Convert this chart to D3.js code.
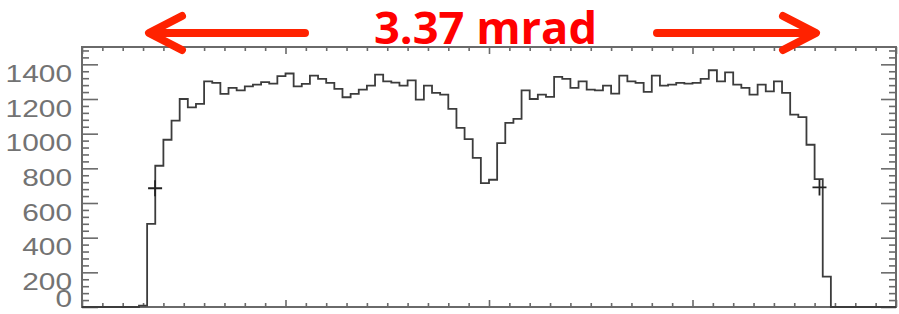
<!DOCTYPE html>
<html>
<head>
<meta charset="utf-8">
<script src="https://cdn.jsdelivr.net/npm/d3@7"></script>
<style>
  body { margin: 0; background: #fff; }
  svg { display: block; }
</style>
</head>
<body>
<svg id="hist"></svg>
<script>
// counts per bin, 100 bins across the frame (bins 0-7 and 92-99 empty)
const counts = [
  0, 0, 0, 0, 0, 0, 0, 8,
  480, 815, 965, 1075, 1200, 1152, 1172, 1302, 1293, 1229,
  1264, 1250, 1273, 1283, 1297, 1289, 1332, 1347, 1273, 1287,
  1335, 1316, 1293, 1258, 1210, 1229, 1254, 1277, 1341, 1302,
  1295, 1277, 1308, 1196, 1277, 1235, 1225, 1143, 1033, 969,
  860, 715, 734, 946, 1062, 1085, 1250, 1200, 1225, 1212,
  1328, 1316, 1264, 1302, 1254, 1250, 1277, 1231, 1335, 1302,
  1293, 1241, 1335, 1277, 1283, 1293, 1289, 1293, 1316, 1366,
  1302, 1354, 1283, 1264, 1225, 1283, 1244, 1302, 1235, 1110,
  1096, 936, 738, 175,
  0, 0, 0, 0, 0, 0, 0, 0
];
// half-maximum markers (bin position, count)
const markerBins = [8.98, 90.6];
const markerCounts = [685, 690];
const yTicks = [0, 200, 400, 600, 800, 1000, 1200, 1400];
const widthLabel = '3.37 mrad';

const W = 899, H = 314;
const margin = { left: 82, right: 3, top: 47, bottom: 7 };

function drawChart() {
  let svg = d3.select('#hist').attr('width', W).attr('height', H);

  let x = d3.scaleLinear().domain([0, counts.length]).range([margin.left, W - margin.right]),
    y = d3.scaleLinear().domain([0, 1500]).range([H - margin.bottom, margin.top]);

  let axisColor = '#6a6a6a';
  let xMajor = d3.range(0, 101, 25),
    xMinor = d3.range(0, 101, 2.5).filter(d => d % 25 !== 0),
    yMinor = d3.range(0, 1501, 40).filter(d => d % 200 !== 0);

  // frame
  svg.append('rect')
    .attr('x', x(0)).attr('y', y(1500))
    .attr('width', x(100) - x(0)).attr('height', y(0) - y(1500))
    .attr('fill', 'none').attr('stroke', axisColor).attr('stroke-width', 2);

  function ticks(axis, vals, size, tr) {
    let g = svg.append('g').attr('transform', tr)
      .call(axis.tickValues(vals).tickSize(size).tickFormat(''));
    g.select('.domain').remove();
    g.selectAll('line').attr('stroke', axisColor).attr('stroke-width', 1.6);
  }
  ticks(d3.axisBottom(x), xMajor, -7, `translate(0,${y(0)})`);
  ticks(d3.axisBottom(x), xMinor, -4, `translate(0,${y(0)})`);
  ticks(d3.axisTop(x), xMajor, -7, `translate(0,${y(1500)})`);
  ticks(d3.axisTop(x), xMinor, -4, `translate(0,${y(1500)})`);
  ticks(d3.axisLeft(y), yTicks, -16, `translate(${x(0)},0)`);
  ticks(d3.axisLeft(y), yMinor, -7, `translate(${x(0)},0)`);
  ticks(d3.axisRight(y), yTicks, -15, `translate(${x(100)},0)`);
  ticks(d3.axisRight(y), yMinor, -7, `translate(${x(100)},0)`);

  // y labels hang below their tick, except 0 which sits on the axis
  svg.append('g').selectAll('text')
    .data(yTicks)
    .enter()
    .append('text')
    .attr('x', 72)
    .attr('y', d => d === 0 ? y(0) : y(d) + 17.5)
    .attr('text-anchor', 'end')
    .attr('font-family', 'Liberation Sans')
    .attr('font-size', 24)
    .attr('fill', '#737373')
    .attr('textLength', d => String(d).length * 16.6)
    .attr('lengthAdjust', 'spacingAndGlyphs')
    .text(d => d);

  // histogram
  let pts = counts.map((c, i) => [i, c]);
  pts.push([counts.length, counts[counts.length - 1]]);
  let line = d3.line()
    .x(d => x(d[0]))
    .y(d => y(d[1]))
    .curve(d3.curveStepAfter);
  svg.append('path')
    .attr('d', line(pts))
    .attr('fill', 'none')
    .attr('stroke', '#3c3c3c')
    .attr('stroke-width', 1.8);

  // + markers
  svg.append('g').selectAll('path')
    .data(markerBins)
    .enter()
    .append('path')
    .attr('d', (d, i) => {
      let cx = x(d), cy = y(markerCounts[i]);
      return `M${cx - 7},${cy}H${cx + 7}M${cx},${cy - 8}V${cy + 8}`;
    })
    .attr('stroke', '#222')
    .attr('stroke-width', 1.8);

  // width annotation
  let red = '#ff2200', ay = 33;
  svg.append('path')
    .attr('d', `M305,${ay}H152M182,${ay - 17}L149,${ay}L182,${ay + 17}`)
    .attr('fill', 'none').attr('stroke', red).attr('stroke-width', 8)
    .attr('stroke-linejoin', 'round').attr('stroke-linecap', 'round');
  svg.append('path')
    .attr('d', `M657,${ay}H812M783,${ay - 17}L816,${ay}L783,${ay + 17}`)
    .attr('fill', 'none').attr('stroke', red).attr('stroke-width', 8)
    .attr('stroke-linejoin', 'round').attr('stroke-linecap', 'round');

  svg.append('text')
    .attr('x', 374)
    .attr('y', 44)
    .attr('font-family', 'Open Sans')
    .attr('font-weight', 700)
    .attr('font-size', 45)
    .attr('fill', '#ff0000')
    .attr('textLength', 223)
    .attr('lengthAdjust', 'spacingAndGlyphs')
    .text(widthLabel);
}

drawChart();
</script>
</body>
</html>
